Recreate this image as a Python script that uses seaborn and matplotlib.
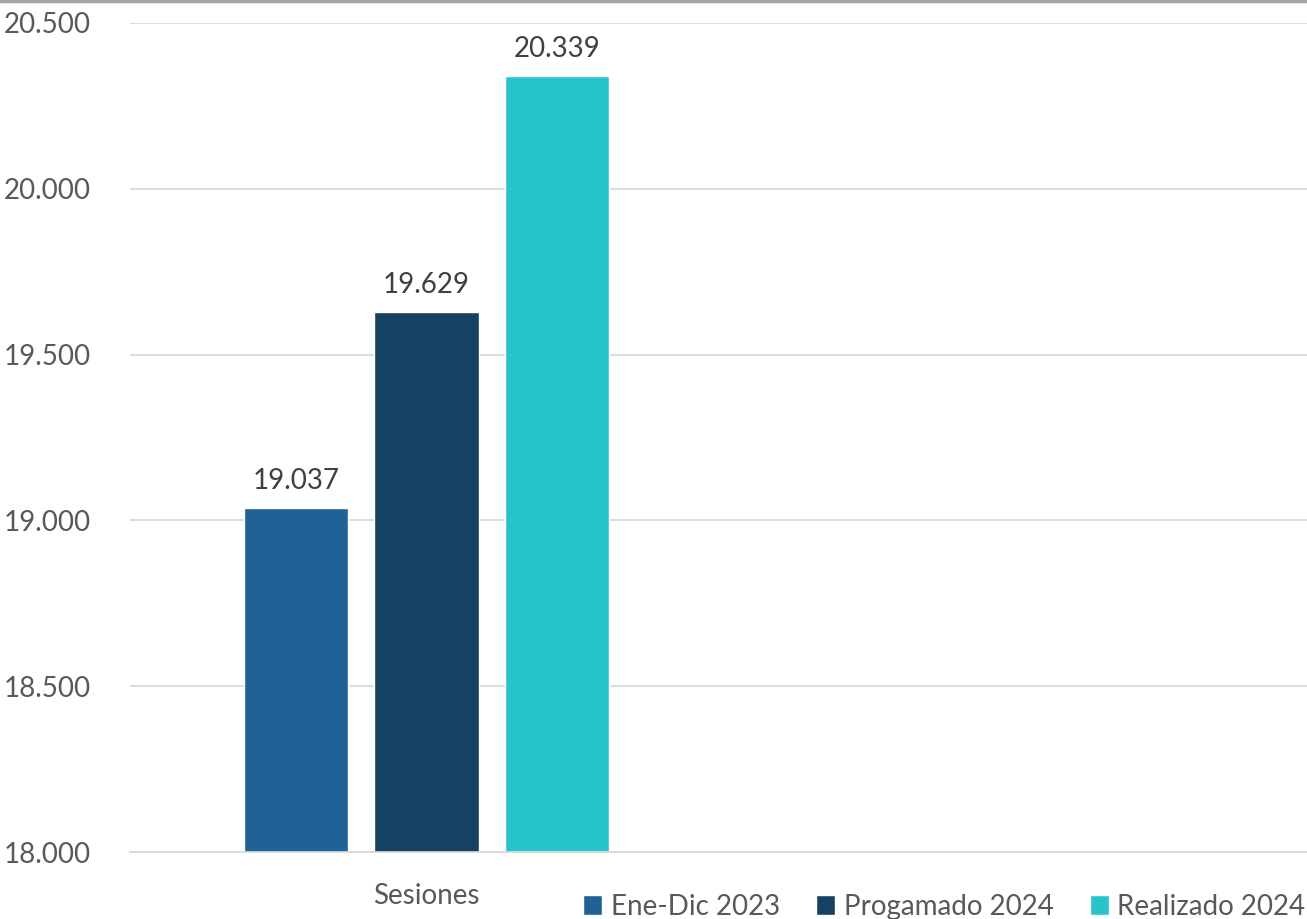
import matplotlib
matplotlib.use("Agg")
import matplotlib.pyplot as plt
import matplotlib.ticker as mticker
from matplotlib.lines import Line2D
import pandas as pd
import seaborn as sns

# data
categories = ["Sesiones"]
series = ["Ene-Dic 2023", "Progamado 2024", "Realizado 2024"]
values = [19037, 19629, 20339]
colors = ["#1F6396", "#154263", "#27C4CC"]

sns.set_theme(style="white")
plt.rcParams["font.family"] = ["Lato", "DejaVu Sans"]

df = pd.DataFrame({
    "cat": categories * len(series),
    "serie": series,
    "valor": values,
})

def fmt(v, _=None):
    return f"{v:,.0f}".replace(",", ".")

fig = plt.figure(figsize=(13.07, 9.19), dpi=100)
ax = fig.add_axes([0.0995, 0.0729, 0.9005, 0.9021])

sns.barplot(data=df, x="cat", y="valor", hue="serie", palette=colors,
            saturation=1, width=0.666, gap=0.2, ax=ax, legend=True)

ax.set_ylim(18000, 20500)
ax.set_xlim(-0.505, 1.5)
ax.yaxis.set_major_locator(mticker.MultipleLocator(500))
ax.yaxis.set_major_formatter(mticker.FuncFormatter(fmt))
ax.grid(axis="y", color="#d9d9d9", linewidth=1.3)
ax.set_axisbelow(True)
for s in ["left", "right", "top"]:
    ax.spines[s].set_visible(False)
ax.spines["bottom"].set_color("#d9d9d9")
ax.spines["bottom"].set_linewidth(1.3)
ax.tick_params(axis="both", length=0, labelsize=20, colors="#595959")
ax.tick_params(axis="x", pad=22)
ax.tick_params(axis="y", pad=28)
ax.set_xlabel("")
ax.set_ylabel("")

for cont in ax.containers:
    ax.bar_label(cont, labels=[fmt(v) for v in cont.datavalues],
                 padding=10, fontsize=20, color="#404040")

handles, labels = ax.get_legend_handles_labels()
ax.get_legend().remove()
fig.legend(handles, labels, loc="lower right", bbox_to_anchor=(1.018, -0.028),
           ncol=3, frameon=False, fontsize=20, labelcolor="#595959",
           handlelength=0.7, handleheight=0.7, handletextpad=0.3,
           columnspacing=1.3)

fig.add_artist(Line2D([0, 1], [0.999, 0.999], transform=fig.transFigure,
                      color="#a6a6a6", linewidth=2.5))

fig.savefig("out.png", dpi=100)
